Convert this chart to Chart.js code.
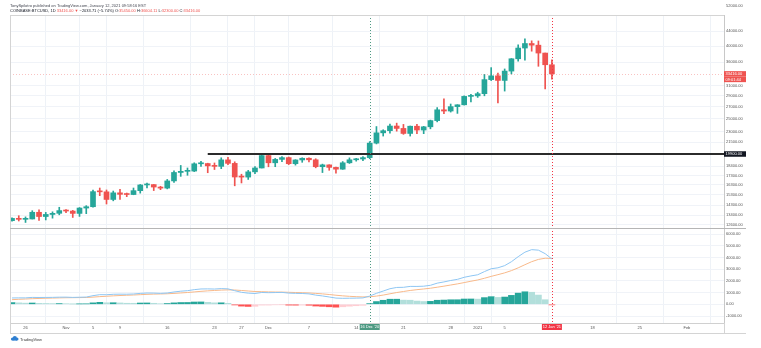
<!DOCTYPE html>
<html>
<head>
<meta charset="utf-8">
<title>BTCUSD 1D</title>
<script src="https://cdn.jsdelivr.net/npm/chart.js@4.4.1/dist/chart.umd.min.js"></script>
<style>
  html, body { margin: 0; padding: 0; background: #fff; }
  #wrap { width: 761px; height: 348px; }
</style>
</head>
<body>
<div id="wrap"><canvas id="btcChart" width="761" height="348"></canvas></div>
<script>
// x axis: one slot per day, index 0 = 24 Oct 2020
const tickIdx  = [2, 8, 12, 16, 23, 30, 34, 38, 44, 51, 58, 65, 69, 73, 86, 93, 100];
const tickText = ['26', 'Nov', '5', '9', '16', '23', '27', 'Dec', '7', '14', '21', '28', '2021', '5', '18', '25', 'Feb'];

const priceTicks = [12600, 13400, 14300, 15300, 16300, 17300, 18400, 21500, 23000, 25000, 27000, 29000, 31000, 36000, 40000, 44000];
const macdTicks = [-1000, 0, 1000, 2000, 3000, 4000, 5000, 6000];

// daily candles
const opens  = [12930,13120,13040,13070,13650,13280,13460,13560,13800,13760,13550,14030,14150,15600,15580,14830,15480,15330,15310,15700,
                16290,16330,16070,15960,16720,17660,17790,17820,18680,18710,18430,18370,19160,18730,17150,17140,17730,18180,19700,18800,
                19220,19440,18690,19150,19360,19170,18330,18550,18250,18040,18800,19170,19270,19440,21350,22820,23140,23850,23480,22730,
                23820,23240,23730,24700,26490,26280,27040,27360,28890,28990,29400,32200,33000,32030,34030,36850,39500,40670,40240,38240,
                35450];
const highs  = [13170,13350,13250,13790,13860,13640,13690,14100,13900,13820,14070,14250,15750,15970,15770,15660,15840,15460,15970,16340,
                16480,16340,16150,16880,17860,18480,18180,18800,18970,18750,18780,19420,19490,18920,17460,17900,18350,19850,19920,19340,
                19580,19520,19180,19420,19420,19300,18640,18560,18290,18950,19410,19350,19570,21560,23770,23280,24170,24300,24100,23850,
                24100,23800,24780,26870,28420,27500,27380,28990,29300,29680,33300,34800,33600,34500,36900,40360,41950,41380,41350,38260,
                36604];
const lows   = [12880,12900,12780,13070,12950,12990,13140,13430,13620,13200,13290,13530,14100,15200,14400,14700,14830,15100,15290,15450,
                15970,15710,15800,15880,16560,17220,17340,17760,18370,17630,18000,18100,18580,16200,16500,16880,17520,18180,18320,18330,
                18930,18580,18520,18860,18920,18200,17650,17910,17580,18020,18720,19000,19050,19300,21240,22350,22770,23070,22600,22350,
                22700,22700,23420,24500,25850,26100,25880,27320,27880,28700,29000,32000,27700,29900,33400,36300,36500,38700,35100,30300,
                32300];
const closes = [13120,13040,13070,13650,13280,13460,13560,13800,13760,13550,14030,14150,15600,15580,14830,15480,15330,15310,15700,16290,
                16330,16070,15960,16720,17660,17790,17820,18680,18710,18430,18370,19160,18730,17150,17140,17730,18180,19700,18800,19220,
                19440,18690,19150,19360,19170,18330,18550,18250,18040,18800,19170,19270,19440,21350,22820,23140,23850,23480,22730,23820,
                23240,23730,24700,26490,26280,27040,27360,28890,28990,29400,32200,33000,32030,34030,36850,39500,40670,40240,38240,35450,
                33416];

// MACD (12, 26, 9) pane
const macdLine = [542,548,548,588,583,587,592,608,611,589,603,617,737,821,817,856,866,862,880,931,
                  963,957,933,964,1052,1119,1162,1251,1309,1317,1303,1340,1319,1162,1025,953,922,1008,993,1003,
                  1017,956,934,923,889,785,713,624,530,511,520,529,544,702,935,1132,1330,1440,1450,1529,
                  1526,1546,1622,1805,1911,2033,2131,2305,2423,2521,2792,3037,3117,3303,3636,4067,4451,4667,4624,4323,
                  3868];
const signalLine = [396,426,450,478,499,517,532,547,560,566,573,582,613,655,687,721,750,772,794,821,
                    849,871,883,899,930,968,1007,1056,1107,1149,1180,1212,1233,1219,1180,1135,1092,1075,1059,1048,
                    1042,1025,1007,990,970,933,889,836,775,722,682,651,630,644,702,788,896,1005,1094,1181,
                    1250,1309,1372,1459,1549,1646,1743,1855,1969,2079,2222,2385,2531,2685,2875,3113,3381,3638,3835,3933,
                    3920];
const histogram = [146,122,98,110,84,70,60,61,51,23,30,35,124,166,130,135,116,90,86,110,
                   114,86,50,65,122,151,155,195,202,168,123,128,86,-57,-155,-182,-170,-67,-66,-45,
                   -25,-69,-73,-67,-81,-148,-176,-212,-245,-211,-162,-122,-86,58,233,344,434,435,356,348,
                   276,237,250,346,362,387,388,450,454,442,570,652,586,618,761,954,1070,1029,789,390,
                   -52];

// drawn horizontal level and the two marked days
const levelPrice = 19900;
const levelFrom = 29;
const markedDays = [53, 80];
const markedText = ["16 Dec '20", "12 Jan '21"];
const markedColor = ['#4e9a83', '#f23645'];

const UP = '#26a69a', DOWN = '#ef5350';
const X_MIN = -0.3, X_MAX = 105.5;

Chart.defaults.font.family = '"Liberation Sans", Arial, sans-serif';

const candleColors = closes.map((c, i) => c >= opens[i] ? UP : DOWN);
const histColors = histogram.map((h, i) => {
  const prev = i > 0 ? histogram[i - 1] : h;
  if (h >= 0) return h >= prev ? '#26a69a' : '#b2dfdb';
  return h <= prev ? '#ff5252' : '#ffcdd2';
});

const bodies = opens.map((o, i) => ({ x: i, y: [o, closes[i]] }));
const wicks = lows.map((l, i) => ({ x: i, y: [l, highs[i]] }));
const histPts = histogram.map((h, i) => ({ x: i, y: h }));
const macdPts = macdLine.map((m, i) => ({ x: i, y: m }));
const sigPts = signalLine.map((s, i) => ({ x: i, y: s }));
const levelPts = [{ x: levelFrom, y: levelPrice }, { x: X_MAX, y: levelPrice }];

function hline(ctx, x1, x2, y) { ctx.beginPath(); ctx.moveTo(x1, y); ctx.lineTo(x2, y); ctx.stroke(); }
function vline(ctx, x, y1, y2) { ctx.beginPath(); ctx.moveTo(x, y1); ctx.lineTo(x, y2); ctx.stroke(); }

function tag(ctx, cx, cy, w, h, bg, text, align) {
  ctx.fillStyle = bg;
  const left = align === 'left' ? cx : cx - w / 2;
  ctx.fillRect(left, cy - h / 2, w, h);
  ctx.fillStyle = '#fff';
  ctx.textAlign = align === 'left' ? 'left' : 'center';
  ctx.textBaseline = 'middle';
  ctx.fillText(text, align === 'left' ? left + 1.5 : cx, cy + 0.3);
}

const overlay = {
  id: 'overlay',
  afterDatasetsDraw(chart) {
    const { ctx, chartArea: a, scales: { x, y } } = chart;
    ctx.save();
    ctx.lineWidth = 1;
    ctx.setLineDash([1, 2]);
    // last price line
    ctx.strokeStyle = 'rgba(239,83,80,0.35)';
    hline(ctx, a.left, a.right, Math.round(y.getPixelForValue(closes[closes.length - 1])) + 0.5);
    // marked days
    markedDays.forEach((d, k) => {
      ctx.strokeStyle = markedColor[k];
      vline(ctx, Math.round(x.getPixelForValue(d)) + 0.5, a.top, a.bottom);
    });
    ctx.restore();
  },
  afterDraw(chart) {
    const { ctx, chartArea: a, scales: { x, y, y2 } } = chart;
    ctx.save();
    ctx.lineWidth = 1;

    // frame and pane separator
    ctx.strokeStyle = '#d4d4d4';
    hline(ctx, a.left, a.right, a.top + 0.5);
    vline(ctx, a.left + 0.5, a.top, x.bottom);
    hline(ctx, a.left, y.right, x.bottom + 0.5);
    vline(ctx, a.right + 0.5, x.top, x.bottom);
    ctx.strokeStyle = '#b5b5b5';
    hline(ctx, a.left, y.right, Math.round(y2.top) + 0.5);

    ctx.font = '4px "Liberation Sans", Arial, sans-serif';

    // price axis tags
    const last = closes[closes.length - 1];
    const py = y.getPixelForValue(last);
    tag(ctx, y.left, py, 22, 5.5, '#ef5350', last.toFixed(2), 'left');
    tag(ctx, y.left, py + 5.5, 22, 5.5, '#ef5350', '09:01:44', 'left');
    tag(ctx, y.left, y.getPixelForValue(levelPrice), 22, 5.5, '#131722', levelPrice.toFixed(2), 'left');
    ctx.fillStyle = '#555';
    ctx.textAlign = 'left';
    ctx.fillText((52000).toFixed(2), y.left + 2, y.getPixelForValue(52000));

    // date tags on the time axis
    markedDays.forEach((d, k) => {
      tag(ctx, x.getPixelForValue(d), x.top + 4, 20, 6, markedColor[k], markedText[k]);
    });

    // header
    const head = [
      ['TonySpilotro published on TradingView.com, January 12, 2021 09:58:16 EST', '#434651']
    ];
    const quote = [
      ['COINBASE:BTCUSD, 1D ', '#131722'], ['33416.00 ', '#ef5350'], ['\u25BC ', '#ef5350'],
      ['\u22122033.71 (\u22125.74%) ', '#131722'],
      ['O:', '#131722'], ['35450.00 ', '#ef5350'], ['H:', '#131722'], ['36604.11 ', '#ef5350'],
      ['L:', '#131722'], ['32300.00 ', '#ef5350'], ['C:', '#131722'], ['33416.00', '#ef5350']
    ];
    ctx.textAlign = 'left';
    ctx.textBaseline = 'middle';
    [[head, 5.5], [quote, 10.5]].forEach(([parts, ty]) => {
      let tx = 10;
      parts.forEach(([t, c]) => {
        ctx.fillStyle = c;
        ctx.fillText(t, tx, ty);
        tx += ctx.measureText(t).width;
      });
    });

    // TradingView mark
    ctx.fillStyle = '#2e7fd1';
    [[12.5, 339, 1.6], [14.8, 338, 2.1], [17, 339, 1.5]].forEach(([cx, cy, r]) => {
      ctx.beginPath(); ctx.arc(cx, cy, r, 0, Math.PI * 2); ctx.fill();
    });
    ctx.fillRect(12.5, 339, 4.5, 1.6);
    ctx.fillStyle = '#3b3b3b';
    ctx.fillText('TradingView', 20, 339.5);

    ctx.restore();
  }
};

const tickFont = { size: 4 };

new Chart(document.getElementById('btcChart').getContext('2d'), {
  type: 'bar',
  data: {
    datasets: [
      { type: 'line', label: 'level', data: levelPts, yAxisID: 'y', borderColor: '#2b2b2b', borderWidth: 2,
        pointRadius: 0, order: 0 },
      { type: 'bar', label: 'body', data: bodies, yAxisID: 'y', backgroundColor: candleColors,
        barThickness: 5, minBarLength: 1, grouped: false, order: 1 },
      { type: 'bar', label: 'wick', data: wicks, yAxisID: 'y', backgroundColor: candleColors,
        barThickness: 1, grouped: false, order: 2 },
      { type: 'line', label: 'MACD', data: macdPts, yAxisID: 'y2', borderColor: '#8ec6f3', borderWidth: 1,
        pointRadius: 0, tension: 0, order: 1 },
      { type: 'line', label: 'Signal', data: sigPts, yAxisID: 'y2', borderColor: '#f8b98a', borderWidth: 1,
        pointRadius: 0, tension: 0, order: 2 },
      { type: 'bar', label: 'Histogram', data: histPts, yAxisID: 'y2', backgroundColor: histColors,
        barThickness: 6, grouped: false, order: 3 }
    ]
  },
  options: {
    responsive: false,
    animation: false,
    devicePixelRatio: 1,
    layout: { padding: { left: 10, top: 15, right: 15, bottom: 15 } },
    plugins: { legend: { display: false }, tooltip: { enabled: false } },
    scales: {
      x: {
        type: 'linear', min: X_MIN, max: X_MAX, offset: false,
        grid: { color: '#eef2f7', drawTicks: false },
        border: { color: '#d0d0d0' },
        ticks: {
          autoSkip: false, maxRotation: 0, padding: 2.5, color: '#555', font: tickFont,
          callback: v => tickText[tickIdx.indexOf(v)] ?? ''
        },
        afterBuildTicks: s => { s.ticks = tickIdx.map(v => ({ value: v })); },
        afterFit: s => { s.height = 10; }
      },
      y: {
        type: 'logarithmic', position: 'right', stack: 'panes', stackWeight: 213,
        min: 12330, max: 48912,
        grid: { color: '#f0f3f8', drawTicks: false },
        border: { color: '#c8c8c8' },
        ticks: { autoSkip: false, padding: 2, color: '#555', font: tickFont, callback: v => Number(v).toFixed(2) },
        afterBuildTicks: s => { s.ticks = priceTicks.map(v => ({ value: v })); },
        afterFit: s => { s.width = 22; }
      },
      y2: {
        type: 'linear', position: 'right', stack: 'panes', stackWeight: 95,
        min: -1597, max: 6516,
        grid: { color: '#f0f3f8', drawTicks: false },
        border: { color: '#c8c8c8' },
        ticks: { autoSkip: false, padding: 2, color: '#555', font: tickFont, callback: v => Number(v).toFixed(2) },
        afterBuildTicks: s => { s.ticks = macdTicks.map(v => ({ value: v })); },
        afterFit: s => { s.width = 22; }
      }
    }
  },
  plugins: [overlay]
});
</script>
</body>
</html>
